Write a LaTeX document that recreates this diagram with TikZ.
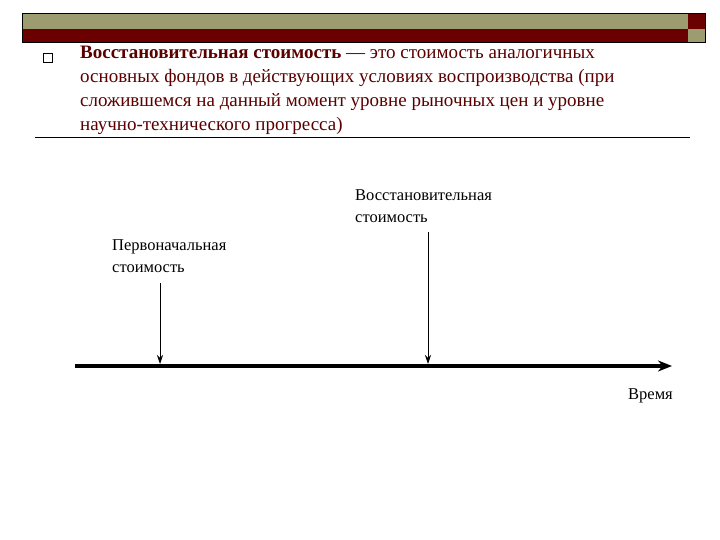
\documentclass[tikz,border=0pt]{standalone}
\usepackage{fontspec}
\setmainfont{Liberation Serif}
\usetikzlibrary{arrows.meta}
\definecolor{olive}{HTML}{9C9C70}
\definecolor{dred}{HTML}{6B0000}
\definecolor{txt}{HTML}{5A0000}
\tikzset{lbl/.style={anchor=north west,align=left,inner sep=0pt,font=\fontsize{16.5}{22}\selectfont},
ptr/.style={-{Stealth[length=9pt,width=6pt]},line width=0.8pt}}
\begin{document}
\begin{tikzpicture}[x=1pt,y=-1pt]
\useasboundingbox[fill=white] (0,0) rectangle (720,540);
\fill[olive] (22,13) rectangle (688,29);
\fill[dred] (22,29) rectangle (688,42);
\fill[dred] (688,13) rectangle (705,29);
\fill[olive] (688,29) rectangle (705,42);
\draw[line width=0.6pt] (22,13) rectangle (705,42);
\node[draw,line width=0.7pt,minimum size=9pt,inner sep=0pt] (bul) at (48,58) {};
\node[anchor=north west,align=left,inner sep=0pt,text=txt,font=\fontsize{19}{24}\selectfont] (def) at (80,46)
{\textbf{Восстановительная стоимость} — это стоимость аналогичных\\основных фондов в действующих условиях воспроизводства (при\\сложившемся на данный момент уровне рыночных цен и уровне\\научно-технического прогресса)};
\coordinate (r1) at (35,137); \coordinate (r2) at (690,137);
\draw[line width=0.8pt] (r1) -- (r2);
\coordinate (a1) at (75,366); \coordinate (a2) at (672,366);
\draw[line width=3.5pt,-{Stealth[length=14pt,width=11pt]}] (a1) -- (a2);
\node[lbl] (perv) at (112,239) {Первоначальная\\стоимость};
\node[lbl] (vos) at (355,189) {Восстановительная\\стоимость};
\node[lbl] (vr) at (628,388) {Время};
\coordinate (p1) at (160,283); \coordinate (p2) at (160,364);
\coordinate (v1) at (428,232); \coordinate (v2) at (428,364);
\draw[ptr] (p1) -- (p2);
\draw[ptr] (v1) -- (v2);
\end{tikzpicture}
\end{document}
